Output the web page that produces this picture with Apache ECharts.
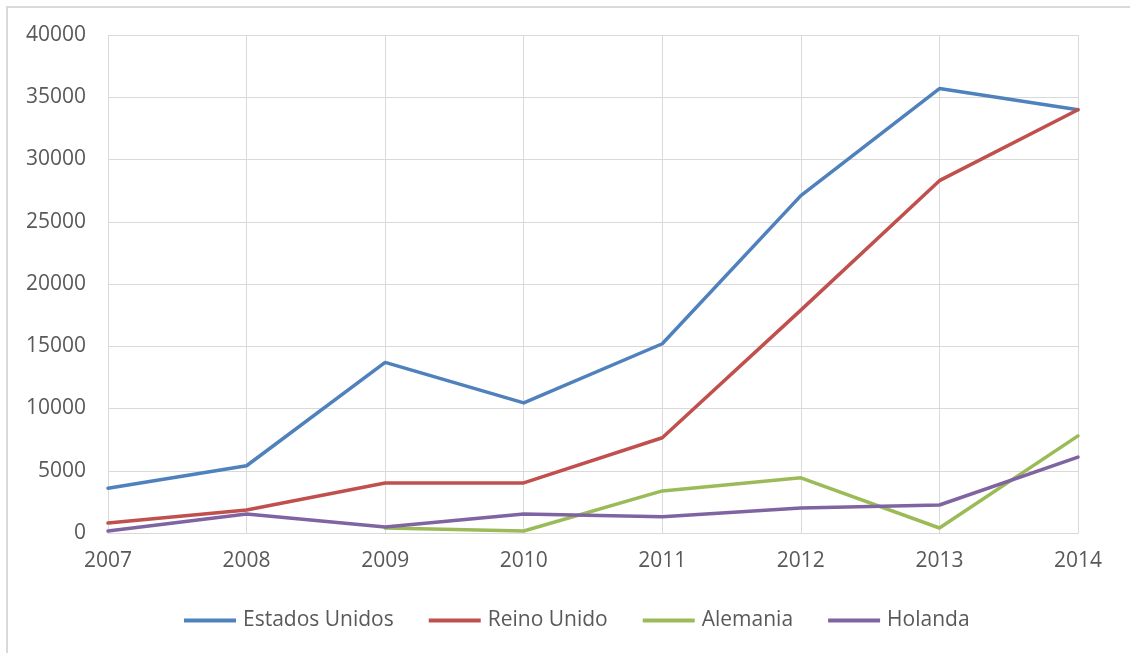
<!DOCTYPE html>
<html>
<head>
<meta charset="utf-8">
<script src="https://cdn.jsdelivr.net/npm/echarts@6/dist/echarts.min.js"></script>
<style>
html,body{margin:0;padding:0;background:#fff;overflow:hidden;}
#wrap{position:relative;width:1130px;height:653px;overflow:hidden;}
#frame{position:absolute;left:6px;top:6px;width:1200px;height:700px;border:2px solid #d9d9d9;box-sizing:border-box;}
#chart{position:absolute;left:0;top:0;width:1130px;height:653px;}
</style>
</head>
<body>
<div id="wrap"><div id="frame"></div><div id="chart"></div></div>
<script>
const years = ['2007','2008','2009','2010','2011','2012','2013','2014'];
const estadosUnidos = [3600, 5400, 13700, 10450, 15200, 27100, 35700, 34000];
const reinoUnido = [800, 1850, 4020, 4020, 7650, 17900, 28300, 34000];
const alemania = [null, null, 400, 160, 3380, 4430, 400, 7800];
const holanda = [160, 1530, 480, 1530, 1300, 2010, 2250, 6100];
const seriesNames = ['Estados Unidos','Reino Unido','Alemania','Holanda'];
const colors = ['#4F81BD','#C0504D','#9BBB59','#8064A2'];
const yTicks = {min:0, max:40000, interval:5000};

const dataSets = [estadosUnidos, reinoUnido, alemania, holanda];
const font = '"Open Sans", "Liberation Sans", sans-serif';
const chart = echarts.init(document.getElementById('chart'), null, {renderer:'canvas'});
chart.setOption({
  animation:false,
  color: colors,
  grid:{left:108, right:52, top:35, bottom:120, containLabel:false},
  legend:{
    bottom:17, left:179, padding:5,
    itemWidth:52, itemHeight:4, itemGap:35,
    icon:'rect',
    textStyle:{color:'#595959', fontSize:21, fontFamily:font, padding:[0,0,0,2]},
    data: seriesNames
  },
  xAxis:{
    type:'category', data: years, boundaryGap:false,
    axisLine:{show:true, lineStyle:{color:'#d9d9d9', width:1}},
    axisTick:{show:false},
    splitLine:{show:true, lineStyle:{color:'#d9d9d9', width:1}},
    axisLabel:{color:'#595959', fontSize:21, fontFamily:font, margin:18}
  },
  yAxis:{
    type:'value', min:yTicks.min, max:yTicks.max, interval:yTicks.interval,
    axisLine:{show:false}, axisTick:{show:false},
    splitLine:{show:true, lineStyle:{color:'#d9d9d9', width:1}},
    axisLabel:{color:'#595959', fontSize:21, fontFamily:font, margin:22, formatter:v=>String(v)}
  },
  series: seriesNames.map((n,i)=>({
    name:n, type:'line', data:dataSets[i], symbol:'none',
    lineStyle:{width:3.5, color:colors[i], cap:'round', join:'round'},
    itemStyle:{color:colors[i]}
  }))
});
</script>
</body>
</html>
